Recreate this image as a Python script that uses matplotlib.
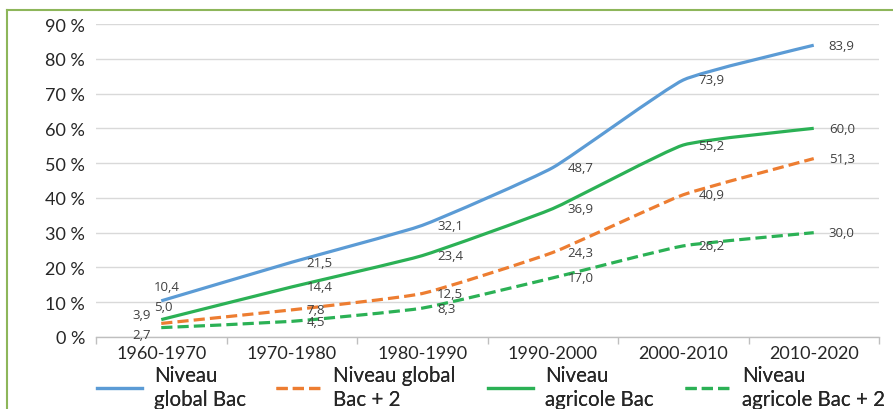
import matplotlib
matplotlib.use("Agg")
import matplotlib.pyplot as plt
from matplotlib.path import Path
from matplotlib.patches import PathPatch
from matplotlib.lines import Line2D
import numpy as np

# chart data
periods = ["1960-1970", "1970-1980", "1980-1990", "1990-2000", "2000-2010", "2010-2020"]
global_bac = [10.4, 21.5, 32.1, 48.7, 73.9, 83.9]
global_bac2 = [3.9, 7.8, 12.5, 24.3, 40.9, 51.3]
agri_bac = [5.0, 14.4, 23.4, 36.9, 55.2, 60.0]
agri_bac2 = [2.7, 4.5, 8.3, 17.0, 26.2, 30.0]
legend_labels = ["Niveau\nglobal Bac", "Niveau global\nBac + 2",
                 "Niveau\nagricole Bac", "Niveau\nagricole Bac + 2"]
y_ticks = [0, 10, 20, 30, 40, 50, 60, 70, 80, 90]

BLUE = "#5B9BD5"
ORANGE = "#ED7D31"
GREEN = "#2BB155"
LABEL_COLOR = "#404040"
TEXT_FONT = "Lato"
NUM_FONT = "Open Sans"


def smooth_path(xs, ys, k=0.07):
    # cubic bezier through the points, light smoothing
    pts = np.column_stack([xs, ys]).astype(float)
    n = len(pts)
    verts = [pts[0]]
    codes = [Path.MOVETO]
    for i in range(n - 1):
        p0 = pts[max(i - 1, 0)]
        p1 = pts[i]
        p2 = pts[i + 1]
        p3 = pts[min(i + 2, n - 1)]
        c1 = p1 + (p2 - p0) * k
        c2 = p2 - (p3 - p1) * k
        verts += [c1, c2, p2]
        codes += [Path.CURVE4] * 3
    return Path(verts, codes)


fig = plt.figure(figsize=(8.93, 4.10), dpi=100)
ax = fig.add_axes([96 / 893, (410 - 338) / 410, (879 - 96) / 893, (338 - 25) / 410])

x = np.arange(len(periods))
series = [
    (global_bac, BLUE, "-"),
    (global_bac2, ORANGE, "--"),
    (agri_bac, GREEN, "-"),
    (agri_bac2, GREEN, "--"),
]
DASH = (3.5, 1.6)

handles = []
for vals, col, ls in series:
    patch = PathPatch(smooth_path(x, vals), facecolor="none", edgecolor=col,
                      lw=2.3, capstyle="butt", zorder=3)
    if ls == "--":
        patch.set_linestyle((0, DASH))
    ax.add_patch(patch)
    h = Line2D([], [], color=col, lw=2.3)
    if ls == "--":
        h.set_dashes(DASH)
    handles.append(h)

# data labels (first point placed by hand, the rest to the right)
first_offsets = [(-7, 8, "left", "bottom"), (-10, 2, "right", "bottom"),
                 (-7, 7, "left", "bottom"), (-10, 0, "right", "top")]
for (vals, col, ls), off in zip(series, first_offsets):
    for i, v in enumerate(vals):
        lab = f"{v:.1f}".replace(".", ",")
        if i == 0:
            dx, dy, ha, va = off
            ax.annotate(lab, (x[i], v), xytext=(dx, dy), textcoords="offset pixels",
                        ha=ha, va=va, fontsize=9.5, color=LABEL_COLOR,
                        family=NUM_FONT, zorder=4)
        else:
            ax.annotate(lab, (x[i], v), xytext=(15, 0), textcoords="offset pixels",
                        ha="left", va="center", fontsize=9.5, color=LABEL_COLOR,
                        family=NUM_FONT, zorder=4)

ax.set_xlim(-0.5, len(periods) - 0.5)
ax.set_ylim(0, 90)
ax.set_yticks(y_ticks)
ax.set_yticklabels([f"{t} %" for t in y_ticks], family=TEXT_FONT, fontsize=13, color="#262626")
ax.set_xticks(x)
ax.set_xticklabels(periods, family=TEXT_FONT, fontsize=13, color="#262626")
ax.set_xticks(np.arange(-0.5, len(periods)), minor=True)
ax.tick_params(axis="x", which="major", length=0, pad=6)
ax.tick_params(axis="x", which="minor", length=5, color="#BFBFBF", width=1)
ax.tick_params(axis="y", length=0, pad=8)

ax.grid(axis="y", color="#D9D9D9", lw=1)
ax.set_axisbelow(True)
for s in ["top", "right", "left"]:
    ax.spines[s].set_visible(False)
ax.spines["bottom"].set_color("#BFBFBF")
ax.spines["bottom"].set_linewidth(1)

# legend: one small legend per entry, placed along the bottom
legend_x = [97, 276, 488, 685]
for h, lab, lx in zip(handles, legend_labels, legend_x):
    leg = fig.legend([h], [lab], loc="center left", bbox_to_anchor=(lx / 893, 22 / 410),
                     frameon=False, prop={"family": TEXT_FONT, "size": 14.8},
                     handlelength=2.2, handletextpad=0.58, borderpad=0,
                     borderaxespad=0, labelcolor="#262626", labelspacing=0)
    fig.add_artist(leg)

# green frame around the figure
fig.add_artist(Line2D([7 / 893, 1.0], [1 - 11 / 410, 1 - 11 / 410], color="#8DB65A", lw=1.5,
                      transform=fig.transFigure))
fig.add_artist(Line2D([7 / 893, 7 / 893], [0, 1 - 11 / 410], color="#8DB65A", lw=1.5,
                      transform=fig.transFigure))

fig.savefig("out.png", dpi=100)
